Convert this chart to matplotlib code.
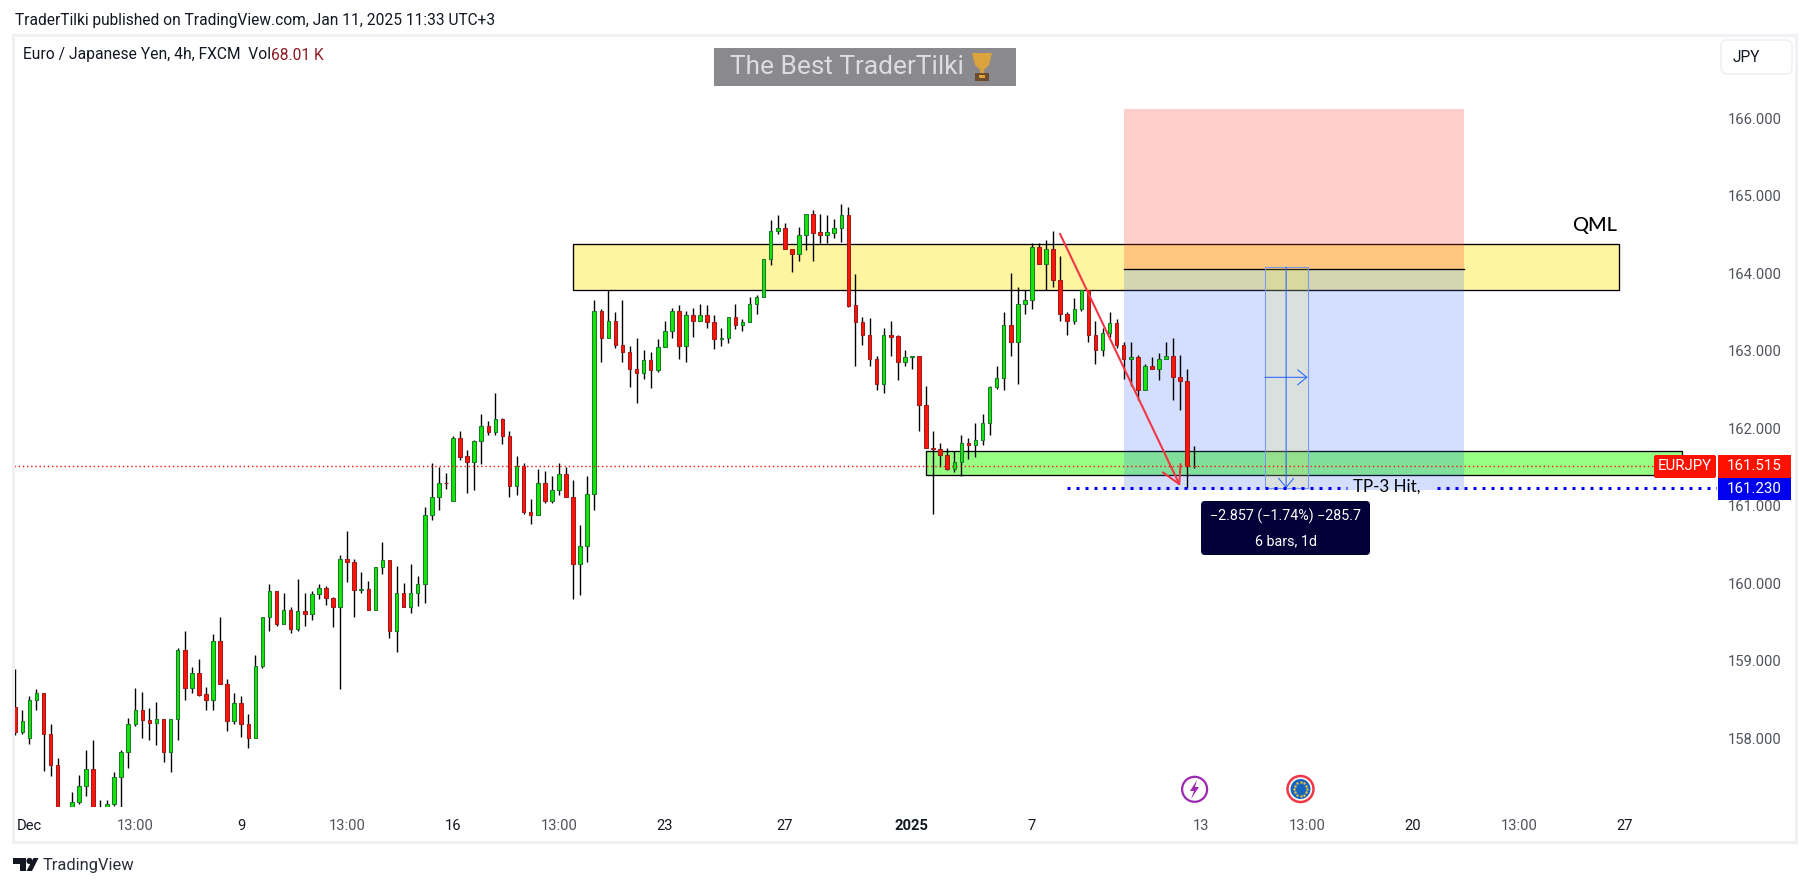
import matplotlib
matplotlib.use("Agg")
import matplotlib.pyplot as plt
from matplotlib.patches import Rectangle, FancyBboxPatch, Circle, Ellipse, Polygon
import numpy as np

plt.rcParams['font.family'] = ['Roboto', 'DejaVu Sans']

opens = [158.40,158.08,158.01,158.50,158.58,158.05,157.65,156.80,157.00,157.18,157.39,157.60,157.05,157.03,157.15,157.50,157.82,158.19,158.36,158.23,
158.20,158.25,157.82,158.25,159.14,158.65,158.84,158.57,158.50,159.25,158.70,158.22,158.46,158.18,158.01,158.93,159.56,159.90,159.47,159.66,
159.41,159.64,159.60,159.86,159.94,159.81,159.69,160.31,160.27,159.92,159.93,159.66,160.21,160.30,159.39,159.87,159.70,159.87,159.99,160.88,
161.11,161.30,161.06,161.87,161.64,161.56,161.83,162.03,161.95,162.12,161.90,161.25,161.52,160.92,160.88,161.29,161.06,161.21,161.41,161.12,
160.25,160.48,161.15,163.51,163.16,163.38,163.07,162.98,162.77,162.71,162.88,162.75,163.05,163.25,163.51,163.06,163.46,163.38,163.46,163.37,
163.15,163.16,163.43,163.33,163.37,163.60,163.70,164.18,164.54,164.58,164.31,164.25,164.50,164.76,164.53,164.50,164.52,164.59,164.75,163.59,
163.37,163.20,162.90,162.57,163.21,163.19,162.86,162.92,162.93,162.30,161.74,161.73,161.65,161.48,161.56,161.81,161.78,161.85,162.07,162.53,
162.65,163.33,163.12,163.60,163.65,164.34,164.12,164.32,163.91,163.47,163.38,163.54,163.78,163.20,163.01,163.23,163.36,163.07,162.90,162.92,
162.50,162.80,162.77,162.90,162.93,162.66,162.61,161.52]
closes = [158.08,158.22,158.50,158.58,158.05,157.65,157.00,156.95,157.18,157.39,157.60,157.00,157.00,157.15,157.50,157.82,158.19,158.36,158.23,158.20,
158.25,157.82,158.25,159.14,158.65,158.84,158.56,158.50,159.25,158.70,158.22,158.46,158.18,158.01,158.93,159.56,159.90,159.47,159.66,159.41,
159.64,159.60,159.86,159.94,159.81,159.69,160.31,160.27,159.92,159.93,159.66,160.21,160.30,159.39,159.87,159.70,159.87,159.99,160.88,161.11,
161.30,161.29,161.87,161.63,161.56,161.83,162.03,161.95,162.12,161.90,161.25,161.52,160.92,160.88,161.29,161.06,161.21,161.41,161.12,160.25,
160.48,161.15,163.51,163.16,163.38,163.07,162.98,162.77,162.71,162.88,162.75,163.05,163.25,163.51,163.06,163.46,163.38,163.46,163.37,163.15,
163.16,163.43,163.33,163.37,163.60,163.70,164.18,164.54,164.58,164.31,164.25,164.50,164.76,164.52,164.50,164.53,164.59,164.75,163.58,163.37,
163.20,162.90,162.57,163.21,163.18,162.86,162.92,162.93,162.30,161.74,161.73,161.65,161.48,161.56,161.81,161.78,161.85,162.07,162.53,162.65,
163.33,163.12,163.60,163.65,164.34,164.12,164.32,163.91,163.47,163.38,163.54,163.78,163.20,163.01,163.23,163.36,163.07,162.90,162.92,162.50,
162.80,162.77,162.90,162.93,162.66,162.61,161.52,161.515]
highs = [158.89,158.37,158.54,158.63,158.58,158.19,157.74,157.05,157.31,157.53,157.85,157.98,157.21,157.21,157.57,157.85,158.26,158.65,158.60,158.39,
158.47,158.25,158.25,159.16,159.38,158.92,159.02,158.66,159.35,159.56,158.76,158.58,158.54,158.31,159.08,159.57,159.99,159.90,159.87,159.69,
160.05,159.88,159.90,159.99,159.97,159.82,160.37,160.67,160.31,160.14,160.03,160.21,160.53,160.30,160.22,160.00,160.25,160.10,160.98,161.55,
161.50,161.42,161.90,161.97,161.72,161.85,162.19,162.09,162.46,162.13,161.96,161.64,161.55,161.09,161.47,161.45,161.38,161.55,161.50,161.33,
160.75,161.39,163.65,163.54,163.79,163.50,163.65,163.06,163.17,163.01,162.98,163.15,163.39,163.55,163.59,163.51,163.55,163.61,163.59,163.46,
163.29,163.43,163.61,163.41,163.70,163.72,164.18,164.69,164.75,164.65,164.32,164.60,164.77,164.82,164.77,164.75,164.70,164.89,164.86,163.99,
163.44,163.42,162.93,163.29,163.39,163.20,163.01,162.93,162.93,162.54,161.97,161.81,161.74,161.71,161.91,161.88,162.07,162.19,162.55,162.80,
163.50,164.01,163.82,163.79,164.39,164.39,164.43,164.54,164.22,163.50,163.68,163.79,163.79,163.38,163.29,163.50,163.41,163.12,163.11,162.94,
162.83,162.92,162.97,163.11,163.17,162.94,162.76,161.77]
lows = [158.04,158.05,157.93,158.36,157.58,157.51,156.90,156.70,156.96,157.15,157.26,156.90,156.92,156.99,157.13,157.05,157.62,158.16,158.00,157.98,
157.91,157.69,157.56,157.98,158.49,158.59,158.55,158.37,158.37,158.70,158.09,158.18,158.02,157.87,158.01,158.91,159.39,159.45,159.47,159.36,
159.38,159.45,159.53,159.80,159.72,159.44,158.63,160.02,159.56,159.88,159.65,159.65,160.12,159.29,159.11,159.70,159.62,159.71,159.75,160.82,
160.95,161.22,161.06,161.59,161.16,161.21,161.54,161.92,161.91,161.80,161.11,161.14,160.89,160.77,160.88,161.03,161.04,161.14,161.11,159.80,
159.85,160.27,160.94,162.85,163.16,163.03,162.85,162.53,162.33,162.64,162.52,162.73,163.05,163.17,162.90,162.85,163.18,163.38,163.29,163.02,
163.06,163.10,163.28,163.25,163.37,163.48,163.70,164.11,164.51,164.31,164.02,164.16,164.30,164.16,164.39,164.39,164.45,164.41,163.56,162.81,
163.07,162.80,162.49,162.45,162.93,162.62,162.80,162.77,161.96,161.74,160.89,161.50,161.46,161.44,161.39,161.61,161.63,161.79,161.91,162.51,
162.49,162.93,162.57,163.48,163.54,164.12,163.79,163.82,163.39,163.21,163.35,163.52,163.12,162.83,162.93,163.18,163.03,162.63,162.54,162.37,
162.50,162.77,162.62,162.90,162.37,162.23,161.23,161.49]

tick_positions = [2, 17, 32, 47, 62, 77, 92, 109, 127, 144, 168, 183, 198, 213, 228]
tick_labels = ['Dec', '13:00', '9', '13:00', '16', '13:00', '23', '27', '2025', '7', '13', '13:00', '20', '13:00', '27']
tick_bold = ['2025']
tick_dark = ['Dec', '9', '16', '23', '27', '2025', '7', '20']
price_ticks = [158, 159, 160, 161, 162, 163, 164, 165, 166]

qml_low, qml_high, qml_start, qml_end = 163.79, 164.38, 79.04, 227.1
sup_low, sup_high, sup_start, sup_end = 161.40, 161.71, 129.05, 236.1
pos_start, pos_end, pos_entry, pos_stop, pos_target = 157.04, 205.2, 164.06, 166.12, 161.21
rng_start, rng_mid, rng_end, rng_top, rng_bottom, rng_arrow = 177.0, 180.0, 183.05, 164.08, 161.226, 162.658
arrow_start, arrow_end = (147.97, 164.51), (165.0, 161.255)
last_price, tp_price = 161.515, 161.23

W, H = 1809, 888
fig = plt.figure(figsize=(W/100, H/100), dpi=100, facecolor='white')
L, R, T, B = 14, 1717, 38, 806.7
ax = fig.add_axes([L/W, 1-B/H, (R-L)/W, (B-T)/H])
ax.set_xlim((L-15.3)/7.06, (R-15.3)/7.06)
ax.set_ylim(162-(B-428.3)/77.5, 162+(428.3-T)/77.5)
for s in ax.spines.values():
    s.set_visible(False)

# zones
for lo, hi, a, b, c in [(qml_low, qml_high, qml_start, qml_end, '#fff49f'),
                        (sup_low, sup_high, sup_start, sup_end, '#97ff84')]:
    ax.add_patch(Rectangle((a, lo), b-a, hi-lo, fc=c, ec='black', lw=0.95, zorder=1))

# position tool
ax.add_patch(Rectangle((pos_start, pos_entry), pos_end-pos_start, pos_stop-pos_entry,
                       fc=(1, .157, .08, .22), ec='none', zorder=2))
ax.add_patch(Rectangle((pos_start, pos_target), pos_end-pos_start, pos_entry-pos_target,
                       fc=(41/255, 98/255, 1, .2), ec='none', zorder=2))
ax.plot([pos_start, pos_end], [pos_entry, pos_entry], color='black', lw=0.95, zorder=2.5)

# candles
x = np.arange(len(opens))
o, c, h, l = map(np.array, (opens, closes, highs, lows))
up = c >= o
ax.vlines(x, l, h, color='black', lw=1.0, zorder=3)
ax.bar(x[up], (c-o)[up], bottom=o[up], width=0.5, color='#14e60a', edgecolor='#1d7a2c', lw=0.75, zorder=3.2)
ax.bar(x[~up], (c-o)[~up], bottom=o[~up], width=0.5, color='#ff1408', edgecolor='#a01c1c', lw=0.75, zorder=3.2)

# price lines
ax.axhline(last_price, color='#ff1008', lw=1.0, ls=(0, (1, 2)), zorder=5)
ax.plot([149, 188.6], [tp_price]*2, color='#0000ff', lw=2.16, ls=(0, (1, 2)), zorder=5)
ax.plot([201.4, 241], [tp_price]*2, color='#0000ff', lw=2.16, ls=(0, (1, 2)), zorder=5)

# date / price range
ax.add_patch(Rectangle((rng_start, rng_bottom), rng_end-rng_start, rng_top-rng_bottom,
                       fc=(240/255, 230/255, 77/255, .18), ec='#7a9bf0', lw=0.8, zorder=4))
blue = '#2962ff'
ax.annotate('', xy=(rng_mid, rng_bottom), xytext=(rng_mid, rng_top), zorder=4.2,
            arrowprops=dict(arrowstyle='->,head_length=0.55,head_width=0.45', color=blue, lw=0.75, shrinkA=0, shrinkB=0, mutation_scale=12))
ax.annotate('', xy=(rng_end, rng_arrow), xytext=(rng_start, rng_arrow), zorder=4.2,
            arrowprops=dict(arrowstyle='->,head_length=0.55,head_width=0.45', color=blue, lw=0.75, shrinkA=0, shrinkB=0, mutation_scale=12))

# red arrow
ax.annotate('', xy=arrow_end, xytext=arrow_start, zorder=4.5,
            arrowprops=dict(arrowstyle='->,head_length=0.9,head_width=0.5', color='#f23645', lw=1.5, shrinkA=0, shrinkB=0, mutation_scale=14))

# axes
ax.set_xticks(tick_positions)
ax.set_xticklabels(tick_labels, fontsize=10.6, color='#50535e')
for t in ax.get_xticklabels():
    if t.get_text() in tick_dark:
        t.set_color('#131722')
    if t.get_text() in tick_bold:
        t.set_fontweight('bold')
ax.set_yticks(price_ticks)
ax.set_yticklabels([f'{v:.3f}' for v in price_ticks], fontsize=10.6, color='#50535e')
ax.yaxis.tick_right()
ax.tick_params(axis='both', length=0)
ax.tick_params(axis='x', pad=9)
ax.tick_params(axis='y', pad=8)

# overlay in pixel coordinates for the page furniture
ov = fig.add_axes([0, 0, 1, 1], zorder=10, facecolor='none')
ov.set_xlim(0, W)
ov.set_ylim(H, 0)
ov.axis('off')
PX = 0.72

ov.add_patch(Rectangle((13, 35), 1783, 807, fc='none', ec='#f0f0f5', lw=2.2))
ov.text(15, 20, 'TraderTilki published on TradingView.com, Jan 11, 2025 11:33 UTC+3',
        fontsize=15.5*PX, color='#131722', va='center')
ov.text(23, 55, 'Euro / Japanese Yen, 4h, FXCM  Vol', fontsize=15.6*PX, color='#131722', va='center')
ov.text(271, 55, '68.01 K', fontsize=15.6*PX, color='#8e1a25', va='center')

# watermark
ov.add_patch(Rectangle((714, 48), 302, 38, fc='#8a8a8e', ec='none'))
ov.text(730, 66.5, 'The Best TraderTilki', fontsize=26.3*PX, color='#dddddd', va='center')
ov.add_patch(Polygon([(972, 53), (992, 53), (989, 65), (985, 69), (979, 69), (975, 65)], fc='#dba33e', ec='none'))
ov.add_patch(Rectangle((980, 69), 4, 5, fc='#dba33e', ec='none'))
ov.add_patch(Rectangle((975, 73), 14, 8, fc='#6e4a2e', ec='none'))
ov.add_patch(Rectangle((979, 75), 6, 3, fc='#dba33e', ec='none'))

# currency button
ov.add_patch(FancyBboxPatch((1721, 40), 71, 34, boxstyle='round,pad=0,rounding_size=6', fc='white', ec='#f0f0f5', lw=1.2))
ov.text(1733, 57.7, 'JPY', fontsize=15.5*PX, color='#131722', va='center')

# annotations
ov.text(1617, 225, 'QML', fontsize=20*PX, color='black', family=['Lato', 'DejaVu Sans'], ha='right', va='center', fontweight='medium')
ov.text(1353, 487, 'TP-3 Hit,', fontsize=17*PX, color='black', family=['Lato', 'DejaVu Sans'], va='center')

# measure label
ov.add_patch(FancyBboxPatch((1203, 503), 165, 50, boxstyle='round,pad=2,rounding_size=4', fc='#020036', ec='none'))
ov.text(1285.7, 516.7, '\u22122.857 (\u22121.74%) \u2212285.7', fontsize=14.2*PX, color='white', ha='center', va='center')
ov.text(1285.7, 541, '6 bars, 1d', fontsize=14.2*PX, color='white', ha='center', va='center')

# price tags
ov.add_patch(FancyBboxPatch((1655, 456), 60, 21, boxstyle='round,pad=1,rounding_size=2', fc='#ff1100', ec='none'))
ov.add_patch(Rectangle((1717.6, 455.3), 73.4, 22.2, fc='#ff1100', ec='none'))
ov.add_patch(Rectangle((1717.6, 477.5), 73.4, 22.2, fc='#0000f0', ec='none'))
ov.text(1685, 466.4, 'EURJPY', fontsize=15*PX, color='white', ha='center', va='center')
ov.text(1754, 466.4, f'{last_price:.3f}', fontsize=15*PX, color='white', ha='center', va='center')
ov.text(1754, 488.6, f'{tp_price:.3f}', fontsize=15*PX, color='white', ha='center', va='center')

# event icons
ov.add_patch(Circle((1194.6, 789.3), 12.5, fc='white', ec='#9c27b0', lw=1.6))
ov.add_patch(Polygon([(1197, 780), (1190, 791), (1194, 791), (1191, 799), (1199, 787), (1195, 787)], fc='#9c27b0', ec='none'))
ov.add_patch(Circle((1300.5, 789), 13, fc='white', ec='#f23645', lw=1.8))
ov.add_patch(Circle((1300.5, 789), 10, fc='#1565c0', ec='none'))
ang = np.arange(12)*np.pi/6
ov.scatter(1300.5+6.8*np.cos(ang), 789+6.8*np.sin(ang), s=3, color='#f2c230', linewidths=0)

# TradingView logo
dk = '#131722'
ov.add_patch(Polygon([(13, 858), (26, 858), (26, 871), (20, 871), (20, 864), (13, 864)], fc=dk, ec='none'))
ov.add_patch(Circle((29.5, 861), 3.1, fc=dk, ec='none'))
ov.add_patch(Polygon([(33.5, 858), (38.5, 858), (32, 871), (26.5, 871)], fc=dk, ec='none'))
ov.text(43, 865, 'TradingView', fontsize=16.5*PX, color='#2a2e39', va='center')

fig.savefig('out.png', dpi=100)
